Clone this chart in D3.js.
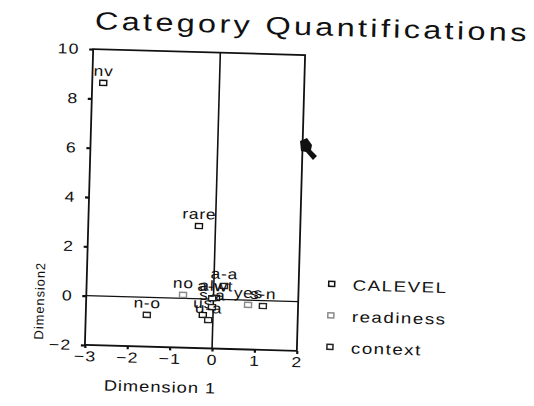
<!DOCTYPE html>
<html>
<head>
<meta charset="utf-8">
<script src="https://cdn.jsdelivr.net/npm/d3@7"></script>
<style>
  body { margin: 0; background: #fff; }
  text { font-family: "Liberation Sans", Arial, sans-serif; fill: #111; }
</style>
</head>
<body>
<div id="chart"></div>
<script>
var svgWidth = 534;
var svgHeight = 406;

// category points: [label, dim1, dim2]
var calevelPoints = [["nv", -2.74, 8.64], ["rare", -0.39, 2.95], ["alwt", 0.06, 0.06], ["us", -0.24, -0.65]];
var readinessPoints = [["no", -0.72, 0.14], ["yes", 0.82, -0.19]];
var contextPoints = [["n-o", -1.56, -0.71], ["a-a", 0.24, 0.55], ["s-n", 1.17, -0.22], ["u-a", -0.11, -0.85], ["a-w", -0.03, 0.04], ["s-a", -0.03, -0.32]];
var xTicks = [-3, -2, -1, 0, 1, 2];
var yTicks = [-2, 0, 2, 4, 6, 8, 10];
var seriesNames = ["CALEVEL", "readiness", "context"];
var seriesColors = ["#111", "#8a8a8a", "#222"];

var plot = { left: 89, right: 301, top: 52, bottom: 348 };

var svg = d3.select("#chart")
  .append("svg")
  .attr("width", svgWidth)
  .attr("height", svgHeight);

// the page was scanned a little crooked, so the whole sheet is tilted
var page = svg.append("g")
  .attr("transform", "rotate(1.6, 195, 200)");

var x = d3.scaleLinear().domain([-3, 2]).range([plot.left, plot.right]);
var y = d3.scaleLinear().domain([-2, 10]).range([plot.bottom, plot.top]);

// wide, loosely spaced lettering like the printout
function wideText(parent, tx, ty, str, size, sx, spacing, anchor) {
  return parent.append("text")
    .attr("transform", `translate(${tx}, ${ty}) scale(${sx}, 1)`)
    .attr("font-size", size)
    .attr("letter-spacing", spacing)
    .attr("text-anchor", anchor || "start")
    .text(str);
}

// title
wideText(page, 90, 32, "Category Quantifications", 25, 1.3, 0)
  .attr("textLength", 332)
  .attr("lengthAdjust", "spacing");

// frame
page.append("rect")
  .attr("x", plot.left)
  .attr("y", plot.top)
  .attr("width", plot.right - plot.left)
  .attr("height", plot.bottom - plot.top)
  .attr("fill", "none")
  .attr("stroke", "#111")
  .attr("stroke-width", 1.8);

// reference lines through zero
page.append("line")
  .attr("x1", x(0)).attr("x2", x(0))
  .attr("y1", plot.top).attr("y2", plot.bottom)
  .attr("stroke", "#111").attr("stroke-width", 1.6);
page.append("line")
  .attr("x1", plot.left).attr("x2", plot.right)
  .attr("y1", y(0)).attr("y2", y(0))
  .attr("stroke", "#111").attr("stroke-width", 1.4);

// axes
var xAxis = page.append("g")
  .attr("transform", `translate(0, ${plot.bottom})`)
  .call(d3.axisBottom(x).tickValues(xTicks).tickSize(3).tickPadding(3).tickFormat(d3.format("d")));
var yAxis = page.append("g")
  .attr("transform", `translate(${plot.left}, 0)`)
  .call(d3.axisLeft(y).tickValues(yTicks).tickSize(4).tickPadding(7).tickFormat(d3.format("d")));

[xAxis, yAxis].forEach(function(ax) {
  ax.select(".domain").remove();
  ax.selectAll(".tick line").attr("stroke", "#111").attr("stroke-width", 2.2);
  ax.selectAll(".tick text")
    .attr("font-size", 14.5)
    .attr("font-family", "Liberation Sans, Arial, sans-serif")
    .attr("fill", "#111")
    .attr("letter-spacing", 1)
    .attr("transform", "scale(1.22, 1)");
});

// axis titles
wideText(page, 109, 393, "Dimension 1", 15, 1.22, 0.8);

page.append("text")
  .attr("transform", "translate(47, 305) rotate(-90)")
  .attr("text-anchor", "middle")
  .attr("font-size", 13)
  .attr("letter-spacing", 0.9)
  .text("Dimension2");

// points
var allSeries = [calevelPoints, readinessPoints, contextPoints];

allSeries.forEach(function(points, i) {
  var g = page.append("g");
  g.selectAll("rect")
    .data(points)
    .enter()
    .append("rect")
    .attr("x", d => x(d[1]) - 3.5)
    .attr("y", d => y(d[2]) - 2.5)
    .attr("width", 7)
    .attr("height", 5)
    .attr("fill", "#fff")
    .attr("stroke", seriesColors[i])
    .attr("stroke-width", 1.4);

  g.selectAll("text")
    .data(points)
    .enter()
    .append("text")
    .attr("transform", d => `translate(${x(d[1])}, ${y(d[2]) - 7}) scale(1.2, 1)`)
    .attr("text-anchor", "middle")
    .attr("font-size", 14.5)
    .attr("letter-spacing", 0.6)
    .text(d => d[0]);
});

// legend
var legend = page.append("g");
seriesNames.forEach(function(name, i) {
  var ly = 280 + i * 31.5;
  legend.append("rect")
    .attr("x", 331)
    .attr("y", ly - 2.5)
    .attr("width", 6)
    .attr("height", 5)
    .attr("fill", "#fff")
    .attr("stroke", seriesColors[i])
    .attr("stroke-width", 1.5);
  wideText(legend, 355, ly + 6, name, 15, 1.25, 1.2);
});

// scanner smudge on the right border
svg.append("path")
  .attr("d", "M300,141 L307,138 L312,145 L311,150 L317,156 L313,160 L306,152 L301,151 Z")
  .attr("fill", "#111");
</script>
</body>
</html>
